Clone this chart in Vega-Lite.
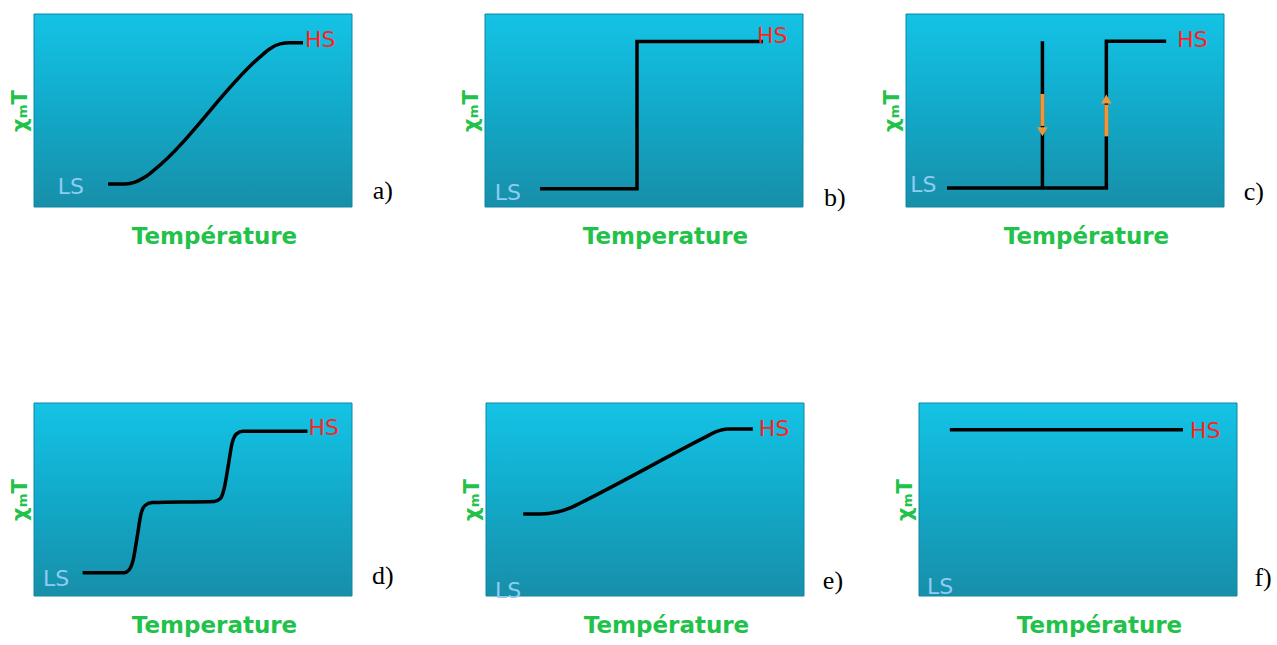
{
  "$schema": "https://vega.github.io/schema/vega-lite/v6.json",
  "background": "white",
  "padding": {"left": 9, "top": 13, "right": 0, "bottom": 0},
  "bounds": "flush",
  "spacing": 389,
  "config": {
    "view": {"stroke": null},
    "axis": {"labels": false, "ticks": false, "domain": false, "grid": false, "titleColor": "#22C24A", "titleFont": "DejaVu Sans", "titleFontWeight": "bold"},
    "axisX": {"titleFontSize": 23, "titlePadding": 18, "titleX": 180},
    "axisY": {"titleFontSize": 21, "titlePadding": 4}
  },
  "datasets": {
    "curves": [
      {"panel": "a", "seg": 1, "i": 1, "x": 23.3, "y": 11.9},
      {"panel": "a", "seg": 1, "i": 2, "x": 28.6, "y": 11.9},
      {"panel": "a", "seg": 1, "i": 3, "x": 31.8, "y": 12.9},
      {"panel": "a", "seg": 1, "i": 4, "x": 34.9, "y": 15.5},
      {"panel": "a", "seg": 1, "i": 5, "x": 38.1, "y": 19.6},
      {"panel": "a", "seg": 1, "i": 6, "x": 71.1, "y": 77.8},
      {"panel": "a", "seg": 1, "i": 7, "x": 74.2, "y": 82.0},
      {"panel": "a", "seg": 1, "i": 8, "x": 77.4, "y": 84.5},
      {"panel": "a", "seg": 1, "i": 9, "x": 80.5, "y": 85.1},
      {"panel": "a", "seg": 1, "i": 10, "x": 84.6, "y": 85.1},
      {"panel": "b", "seg": 1, "i": 1, "x": 17.3, "y": 9.5},
      {"panel": "b", "seg": 1, "i": 2, "x": 47.8, "y": 9.5},
      {"panel": "b", "seg": 1, "i": 3, "x": 47.8, "y": 85.8},
      {"panel": "b", "seg": 1, "i": 4, "x": 87.4, "y": 85.8},
      {"panel": "c", "seg": 1, "i": 1, "x": 12.9, "y": 9.9},
      {"panel": "c", "seg": 1, "i": 2, "x": 63.0, "y": 9.9},
      {"panel": "c", "seg": 1, "i": 3, "x": 63.0, "y": 85.9},
      {"panel": "c", "seg": 1, "i": 4, "x": 81.8, "y": 85.9},
      {"panel": "c", "seg": 2, "i": 1, "x": 42.9, "y": 9.9},
      {"panel": "c", "seg": 2, "i": 2, "x": 42.9, "y": 85.9},
      {"panel": "d", "seg": 1, "i": 1, "x": 15.3, "y": 12.0},
      {"panel": "d", "seg": 1, "i": 2, "x": 28.3, "y": 12.0},
      {"panel": "d", "seg": 1, "i": 3, "x": 29.9, "y": 13.5},
      {"panel": "d", "seg": 1, "i": 4, "x": 31.2, "y": 18.8},
      {"panel": "d", "seg": 1, "i": 5, "x": 32.4, "y": 30.2},
      {"panel": "d", "seg": 1, "i": 6, "x": 33.6, "y": 42.2},
      {"panel": "d", "seg": 1, "i": 7, "x": 34.9, "y": 46.9},
      {"panel": "d", "seg": 1, "i": 8, "x": 37.1, "y": 48.4},
      {"panel": "d", "seg": 1, "i": 9, "x": 56.7, "y": 49.0},
      {"panel": "d", "seg": 1, "i": 10, "x": 58.6, "y": 50.5},
      {"panel": "d", "seg": 1, "i": 11, "x": 59.8, "y": 55.7},
      {"panel": "d", "seg": 1, "i": 12, "x": 61.1, "y": 67.7},
      {"panel": "d", "seg": 1, "i": 13, "x": 62.3, "y": 79.2},
      {"panel": "d", "seg": 1, "i": 14, "x": 63.6, "y": 83.9},
      {"panel": "d", "seg": 1, "i": 15, "x": 65.7, "y": 85.4},
      {"panel": "d", "seg": 1, "i": 16, "x": 86.0, "y": 85.4},
      {"panel": "e", "seg": 1, "i": 1, "x": 11.7, "y": 42.5},
      {"panel": "e", "seg": 1, "i": 2, "x": 17.0, "y": 42.5},
      {"panel": "e", "seg": 1, "i": 3, "x": 22.4, "y": 43.5},
      {"panel": "e", "seg": 1, "i": 4, "x": 26.5, "y": 45.6},
      {"panel": "e", "seg": 1, "i": 5, "x": 29.7, "y": 48.2},
      {"panel": "e", "seg": 1, "i": 6, "x": 68.5, "y": 81.9},
      {"panel": "e", "seg": 1, "i": 7, "x": 72.2, "y": 85.0},
      {"panel": "e", "seg": 1, "i": 8, "x": 76.0, "y": 86.5},
      {"panel": "e", "seg": 1, "i": 9, "x": 83.9, "y": 86.5},
      {"panel": "f", "seg": 1, "i": 1, "x": 9.7, "y": 86.1},
      {"panel": "f", "seg": 1, "i": 2, "x": 83.0, "y": 86.1}
    ],
    "labels": [
      {"panel": "a", "state": "HS", "x": 85.2, "y": 86.6},
      {"panel": "a", "state": "LS", "x": 7.5, "y": 10.3},
      {"panel": "b", "state": "HS", "x": 85.5, "y": 88.4},
      {"panel": "b", "state": "LS", "x": 3.1, "y": 7.4},
      {"panel": "c", "state": "HS", "x": 85.3, "y": 86.4},
      {"panel": "c", "state": "LS", "x": 1.3, "y": 11.5},
      {"panel": "d", "state": "HS", "x": 86.3, "y": 87.0},
      {"panel": "d", "state": "LS", "x": 2.8, "y": 8.9},
      {"panel": "e", "state": "HS", "x": 85.8, "y": 86.5},
      {"panel": "e", "state": "LS", "x": 2.8, "y": 2.6},
      {"panel": "f", "state": "HS", "x": 85.2, "y": 85.6},
      {"panel": "f", "state": "LS", "x": 2.5, "y": 4.6}
    ],
    "letters": [
      {"panel": "a", "label": "a)", "x": 109.7, "y": 8.2},
      {"panel": "b", "label": "b)", "x": 110.0, "y": 4.7},
      {"panel": "c", "label": "c)", "x": 109.4, "y": 7.9},
      {"panel": "d", "label": "d)", "x": 109.7, "y": 10.4},
      {"panel": "e", "label": "e)", "x": 109.1, "y": 7.8},
      {"panel": "f", "label": "f)", "x": 108.2, "y": 9.3}
    ],
    "arrows": [
      {"dir": "down", "x": 42.9, "y1": 58.6, "y2": 42.0, "yh": 39.0},
      {"dir": "up", "x": 63.0, "y1": 36.6, "y2": 53.0, "yh": 56.0}
    ]
  },
  "vconcat": [
    {
      "hconcat": [
        {
          "width": 318, "height": 193,
          "layer": [
            {"data": {"values": [{}]}, "mark": {"type": "rect", "stroke": "#0E86A0", "strokeWidth": 1, "color": {"gradient": "linear", "x1": 0, "y1": 0, "x2": 0, "y2": 1, "stops": [{"offset": 0, "color": "#14C3E5"}, {"offset": 0.5, "color": "#12A9C9"}, {"offset": 1, "color": "#178FA9"}]}},
             "encoding": {"x": {"datum": 0, "type": "quantitative", "scale": {"domain": [0, 100], "nice": false}, "axis": {"title": "Température"}}, "x2": {"datum": 100}, "y": {"datum": 0, "type": "quantitative", "scale": {"domain": [0, 100], "nice": false}, "axis": {"title": "χₘT"}}, "y2": {"datum": 100}}},
            {"data": {"name": "curves"}, "transform": [{"filter": "datum.panel == 'a'"}], "mark": {"type": "line", "interpolate": "monotone", "color": "black", "strokeWidth": 3.5},
             "encoding": {"x": {"field": "x", "type": "quantitative"}, "y": {"field": "y", "type": "quantitative"}, "order": {"field": "i"}, "detail": {"field": "seg"}}},
            {"data": {"name": "labels"}, "transform": [{"filter": "datum.panel == 'a'"}], "mark": {"type": "text", "align": "left", "baseline": "middle", "font": "DejaVu Sans", "fontSize": 22},
             "encoding": {"x": {"field": "x", "type": "quantitative"}, "y": {"field": "y", "type": "quantitative"}, "text": {"field": "state"}, "color": {"field": "state", "type": "nominal", "scale": {"domain": ["LS", "HS"], "range": ["#8FCBF2", "#FF1F1F"]}, "legend": null}}},
            {"data": {"name": "letters"}, "transform": [{"filter": "datum.panel == 'a'"}], "mark": {"type": "text", "align": "center", "baseline": "middle", "font": "Liberation Serif", "fontSize": 26, "color": "black"},
             "encoding": {"x": {"field": "x", "type": "quantitative"}, "y": {"field": "y", "type": "quantitative"}, "text": {"field": "label"}}}
          ]
        },
        {
          "hconcat": [
            {
              "width": 318, "height": 193,
              "layer": [
                {"data": {"values": [{}]}, "mark": {"type": "rect", "stroke": "#0E86A0", "strokeWidth": 1, "color": {"gradient": "linear", "x1": 0, "y1": 0, "x2": 0, "y2": 1, "stops": [{"offset": 0, "color": "#14C3E5"}, {"offset": 0.5, "color": "#12A9C9"}, {"offset": 1, "color": "#178FA9"}]}},
                 "encoding": {"x": {"datum": 0, "type": "quantitative", "scale": {"domain": [0, 100], "nice": false}, "axis": {"title": "Temperature"}}, "x2": {"datum": 100}, "y": {"datum": 0, "type": "quantitative", "scale": {"domain": [0, 100], "nice": false}, "axis": {"title": "χₘT"}}, "y2": {"datum": 100}}},
                {"data": {"name": "curves"}, "transform": [{"filter": "datum.panel == 'b'"}], "mark": {"type": "line", "interpolate": "linear", "color": "black", "strokeWidth": 3.5},
                 "encoding": {"x": {"field": "x", "type": "quantitative"}, "y": {"field": "y", "type": "quantitative"}, "order": {"field": "i"}, "detail": {"field": "seg"}}},
                {"data": {"name": "labels"}, "transform": [{"filter": "datum.panel == 'b'"}], "mark": {"type": "text", "align": "left", "baseline": "middle", "font": "DejaVu Sans", "fontSize": 22},
                 "encoding": {"x": {"field": "x", "type": "quantitative"}, "y": {"field": "y", "type": "quantitative"}, "text": {"field": "state"}, "color": {"field": "state", "type": "nominal", "scale": {"domain": ["LS", "HS"], "range": ["#8FCBF2", "#FF1F1F"]}, "legend": null}}},
                {"data": {"name": "letters"}, "transform": [{"filter": "datum.panel == 'b'"}], "mark": {"type": "text", "align": "center", "baseline": "middle", "font": "Liberation Serif", "fontSize": 26, "color": "black"},
                 "encoding": {"x": {"field": "x", "type": "quantitative"}, "y": {"field": "y", "type": "quantitative"}, "text": {"field": "label"}}}
              ]
            },
            {
              "width": 318, "height": 193,
              "layer": [
                {"data": {"values": [{}]}, "mark": {"type": "rect", "stroke": "#0E86A0", "strokeWidth": 1, "color": {"gradient": "linear", "x1": 0, "y1": 0, "x2": 0, "y2": 1, "stops": [{"offset": 0, "color": "#14C3E5"}, {"offset": 0.5, "color": "#12A9C9"}, {"offset": 1, "color": "#178FA9"}]}},
                 "encoding": {"x": {"datum": 0, "type": "quantitative", "scale": {"domain": [0, 100], "nice": false}, "axis": {"title": "Température"}}, "x2": {"datum": 100}, "y": {"datum": 0, "type": "quantitative", "scale": {"domain": [0, 100], "nice": false}, "axis": {"title": "χₘT"}}, "y2": {"datum": 100}}},
                {"data": {"name": "curves"}, "transform": [{"filter": "datum.panel == 'c'"}], "mark": {"type": "line", "interpolate": "linear", "color": "black", "strokeWidth": 3.5},
                 "encoding": {"x": {"field": "x", "type": "quantitative"}, "y": {"field": "y", "type": "quantitative"}, "order": {"field": "i"}, "detail": {"field": "seg"}}},
                {"data": {"name": "arrows"}, "mark": {"type": "rule", "color": "#F0963A", "strokeWidth": 4},
                 "encoding": {"x": {"field": "x", "type": "quantitative"}, "y": {"field": "y1", "type": "quantitative"}, "y2": {"field": "y2"}}},
                {"data": {"name": "arrows"}, "mark": {"type": "point", "filled": true, "opacity": 1, "color": "#F0963A", "size": 110},
                 "encoding": {"x": {"field": "x", "type": "quantitative"}, "y": {"field": "yh", "type": "quantitative"}, "shape": {"field": "dir", "type": "nominal", "scale": {"domain": ["down", "up"], "range": ["triangle-down", "triangle-up"]}, "legend": null}}},
                {"data": {"name": "labels"}, "transform": [{"filter": "datum.panel == 'c'"}], "mark": {"type": "text", "align": "left", "baseline": "middle", "font": "DejaVu Sans", "fontSize": 22},
                 "encoding": {"x": {"field": "x", "type": "quantitative"}, "y": {"field": "y", "type": "quantitative"}, "text": {"field": "state"}, "color": {"field": "state", "type": "nominal", "scale": {"domain": ["LS", "HS"], "range": ["#8FCBF2", "#FF1F1F"]}, "legend": null}}},
                {"data": {"name": "letters"}, "transform": [{"filter": "datum.panel == 'c'"}], "mark": {"type": "text", "align": "center", "baseline": "middle", "font": "Liberation Serif", "fontSize": 26, "color": "black"},
                 "encoding": {"x": {"field": "x", "type": "quantitative"}, "y": {"field": "y", "type": "quantitative"}, "text": {"field": "label"}}}
              ]
            }
          ],
          "spacing": 103,
          "bounds": "flush"
        }
      ],
      "spacing": 133,
      "bounds": "flush"
    },
    {
      "hconcat": [
        {
          "width": 318, "height": 193,
          "layer": [
            {"data": {"values": [{}]}, "mark": {"type": "rect", "stroke": "#0E86A0", "strokeWidth": 1, "color": {"gradient": "linear", "x1": 0, "y1": 0, "x2": 0, "y2": 1, "stops": [{"offset": 0, "color": "#14C3E5"}, {"offset": 0.5, "color": "#12A9C9"}, {"offset": 1, "color": "#178FA9"}]}},
             "encoding": {"x": {"datum": 0, "type": "quantitative", "scale": {"domain": [0, 100], "nice": false}, "axis": {"title": "Temperature"}}, "x2": {"datum": 100}, "y": {"datum": 0, "type": "quantitative", "scale": {"domain": [0, 100], "nice": false}, "axis": {"title": "χₘT"}}, "y2": {"datum": 100}}},
            {"data": {"name": "curves"}, "transform": [{"filter": "datum.panel == 'd'"}], "mark": {"type": "line", "interpolate": "monotone", "color": "black", "strokeWidth": 3.5},
             "encoding": {"x": {"field": "x", "type": "quantitative"}, "y": {"field": "y", "type": "quantitative"}, "order": {"field": "i"}, "detail": {"field": "seg"}}},
            {"data": {"name": "labels"}, "transform": [{"filter": "datum.panel == 'd'"}], "mark": {"type": "text", "align": "left", "baseline": "middle", "font": "DejaVu Sans", "fontSize": 22},
             "encoding": {"x": {"field": "x", "type": "quantitative"}, "y": {"field": "y", "type": "quantitative"}, "text": {"field": "state"}, "color": {"field": "state", "type": "nominal", "scale": {"domain": ["LS", "HS"], "range": ["#8FCBF2", "#FF1F1F"]}, "legend": null}}},
            {"data": {"name": "letters"}, "transform": [{"filter": "datum.panel == 'd'"}], "mark": {"type": "text", "align": "center", "baseline": "middle", "font": "Liberation Serif", "fontSize": 26, "color": "black"},
             "encoding": {"x": {"field": "x", "type": "quantitative"}, "y": {"field": "y", "type": "quantitative"}, "text": {"field": "label"}}}
          ]
        },
        {
          "hconcat": [
            {
              "width": 318, "height": 193,
              "layer": [
                {"data": {"values": [{}]}, "mark": {"type": "rect", "stroke": "#0E86A0", "strokeWidth": 1, "color": {"gradient": "linear", "x1": 0, "y1": 0, "x2": 0, "y2": 1, "stops": [{"offset": 0, "color": "#14C3E5"}, {"offset": 0.5, "color": "#12A9C9"}, {"offset": 1, "color": "#178FA9"}]}},
                 "encoding": {"x": {"datum": 0, "type": "quantitative", "scale": {"domain": [0, 100], "nice": false}, "axis": {"title": "Température"}}, "x2": {"datum": 100}, "y": {"datum": 0, "type": "quantitative", "scale": {"domain": [0, 100], "nice": false}, "axis": {"title": "χₘT"}}, "y2": {"datum": 100}}},
                {"data": {"name": "curves"}, "transform": [{"filter": "datum.panel == 'e'"}], "mark": {"type": "line", "interpolate": "monotone", "color": "black", "strokeWidth": 3.5},
                 "encoding": {"x": {"field": "x", "type": "quantitative"}, "y": {"field": "y", "type": "quantitative"}, "order": {"field": "i"}, "detail": {"field": "seg"}}},
                {"data": {"name": "labels"}, "transform": [{"filter": "datum.panel == 'e'"}], "mark": {"type": "text", "align": "left", "baseline": "middle", "font": "DejaVu Sans", "fontSize": 22},
                 "encoding": {"x": {"field": "x", "type": "quantitative"}, "y": {"field": "y", "type": "quantitative"}, "text": {"field": "state"}, "color": {"field": "state", "type": "nominal", "scale": {"domain": ["LS", "HS"], "range": ["#8FCBF2", "#FF1F1F"]}, "legend": null}}},
                {"data": {"name": "letters"}, "transform": [{"filter": "datum.panel == 'e'"}], "mark": {"type": "text", "align": "center", "baseline": "middle", "font": "Liberation Serif", "fontSize": 26, "color": "black"},
                 "encoding": {"x": {"field": "x", "type": "quantitative"}, "y": {"field": "y", "type": "quantitative"}, "text": {"field": "label"}}}
              ]
            },
            {
              "width": 318, "height": 193,
              "layer": [
                {"data": {"values": [{}]}, "mark": {"type": "rect", "stroke": "#0E86A0", "strokeWidth": 1, "color": {"gradient": "linear", "x1": 0, "y1": 0, "x2": 0, "y2": 1, "stops": [{"offset": 0, "color": "#14C3E5"}, {"offset": 0.5, "color": "#12A9C9"}, {"offset": 1, "color": "#178FA9"}]}},
                 "encoding": {"x": {"datum": 0, "type": "quantitative", "scale": {"domain": [0, 100], "nice": false}, "axis": {"title": "Température"}}, "x2": {"datum": 100}, "y": {"datum": 0, "type": "quantitative", "scale": {"domain": [0, 100], "nice": false}, "axis": {"title": "χₘT"}}, "y2": {"datum": 100}}},
                {"data": {"name": "curves"}, "transform": [{"filter": "datum.panel == 'f'"}], "mark": {"type": "line", "interpolate": "linear", "color": "black", "strokeWidth": 3.5},
                 "encoding": {"x": {"field": "x", "type": "quantitative"}, "y": {"field": "y", "type": "quantitative"}, "order": {"field": "i"}, "detail": {"field": "seg"}}},
                {"data": {"name": "labels"}, "transform": [{"filter": "datum.panel == 'f'"}], "mark": {"type": "text", "align": "left", "baseline": "middle", "font": "DejaVu Sans", "fontSize": 22},
                 "encoding": {"x": {"field": "x", "type": "quantitative"}, "y": {"field": "y", "type": "quantitative"}, "text": {"field": "state"}, "color": {"field": "state", "type": "nominal", "scale": {"domain": ["LS", "HS"], "range": ["#8FCBF2", "#FF1F1F"]}, "legend": null}}},
                {"data": {"name": "letters"}, "transform": [{"filter": "datum.panel == 'f'"}], "mark": {"type": "text", "align": "center", "baseline": "middle", "font": "Liberation Serif", "fontSize": 26, "color": "black"},
                 "encoding": {"x": {"field": "x", "type": "quantitative"}, "y": {"field": "y", "type": "quantitative"}, "text": {"field": "label"}}}
              ]
            }
          ],
          "spacing": 115,
          "bounds": "flush"
        }
      ],
      "spacing": 134,
      "bounds": "flush"
    }
  ]
}
